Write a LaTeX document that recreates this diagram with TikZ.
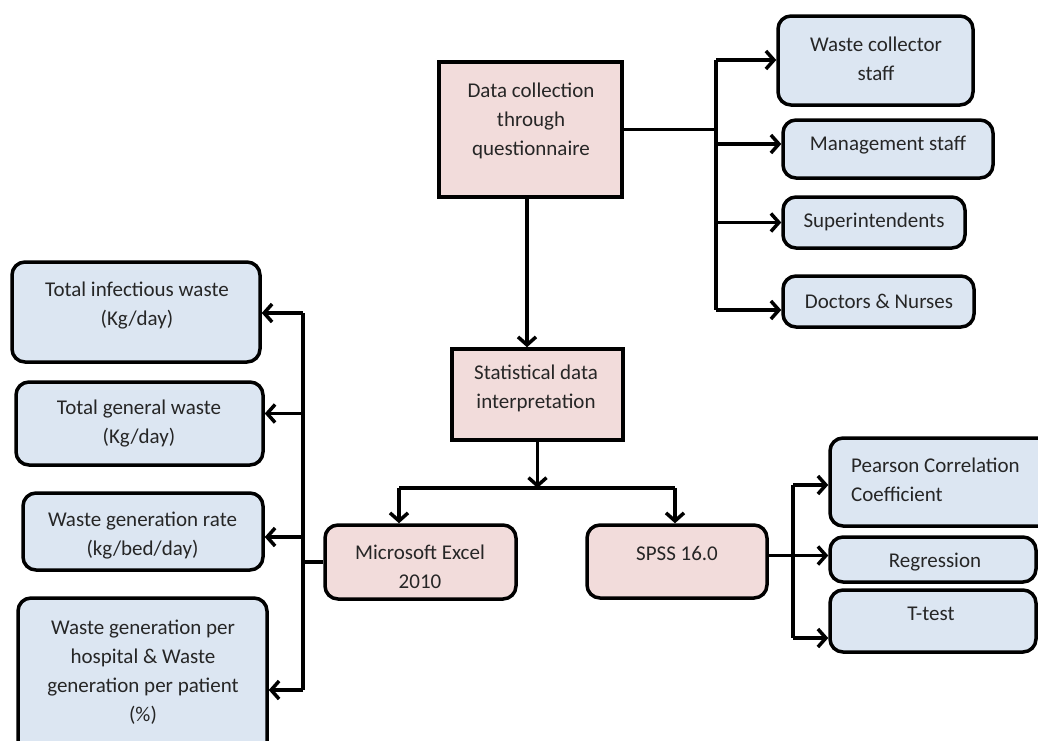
\documentclass[tikz,border=0pt]{standalone}
\usepackage{fontspec}
\setmainfont{Carlito}
\usetikzlibrary{arrows.meta}
\definecolor{pinkfill}{HTML}{F2DCDB}
\definecolor{bluefill}{HTML}{DCE6F2}
\definecolor{txtcol}{HTML}{262626}
\tikzset{
  boxbase/.style={draw=black, line width=3.5pt, inner sep=0pt},
  pinksq/.style={boxbase, fill=pinkfill},
  pinkrd/.style={boxbase, fill=pinkfill, rounded corners=13pt},
  bluerd/.style={boxbase, fill=bluefill, rounded corners=13pt},
  txt/.style={text=txtcol, align=center, inner sep=0pt, font=\fontsize{21}{29}\selectfont},
  conn/.style={draw=black, line width=3.5pt},
  arr/.style={conn, -{Straight Barb[length=8pt,width=18pt,line width=3.5pt]}}
}
\begin{document}
\begin{tikzpicture}[x=1pt,y=-1pt]
\clip (0,0) rectangle (1038,740);
\fill[white] (0,0) rectangle (1038,740);

% boxes
\node[pinksq, minimum width=183pt, minimum height=135pt] (dc) at (530.5,129.5) {};
\node[bluerd, minimum width=195pt, minimum height=89pt] (wc) at (875.5,60.5) {};
\node[bluerd, minimum width=210pt, minimum height=58pt] (ms) at (888,149) {};
\node[bluerd, minimum width=182pt, minimum height=51pt] (su) at (874,222.5) {};
\node[bluerd, minimum width=191pt, minimum height=51pt] (dn) at (878.5,301.5) {};
\node[pinksq, minimum width=171pt, minimum height=91pt] (st) at (537.5,394.5) {};
\node[pinkrd, minimum width=191pt, minimum height=74pt] (ex) at (420.5,562) {};
\node[pinkrd, minimum width=180pt, minimum height=73pt] (sp) at (677,561.5) {};
\node[bluerd, minimum width=248pt, minimum height=100pt] (ti) at (136,312) {};
\node[bluerd, minimum width=247pt, minimum height=83pt] (tg) at (139.5,423.5) {};
\node[bluerd, minimum width=240pt, minimum height=77pt] (wr) at (143,531.5) {};
\node[bluerd, minimum width=249pt, minimum height=164pt] (wp) at (142.5,680) {};
\node[bluerd, minimum width=230pt, minimum height=88pt] (pc) at (945,482) {};
\node[bluerd, minimum width=206pt, minimum height=45pt] (rg) at (933,559.5) {};
\node[bluerd, minimum width=206pt, minimum height=62pt] (tt) at (933,621) {};

% texts
\node[txt] (dct) at (531,121) {Data collection\\through\\questionnaire};
\node[txt] (wct) at (876,59) {Waste collector\\staff};
\node[txt] (mst) at (888,145) {Management staff};
\node[txt] (sut) at (874,222) {Superintendents};
\node[txt] (dnt) at (879,301) {Doctors \& Nurses};
\node[txt] (stt) at (536,388) {Statistical data\\interpretation};
\node[txt] (ext) at (420,567) {Microsoft Excel\\2010};
\node[txt] (spt) at (677,553) {SPSS 16.0};
\node[txt] (tit) at (137,306) {Total infectious waste\\(Kg/day)};
\node[txt] (tgt) at (139,424) {Total general waste\\(Kg/day)};
\node[txt] (wrt) at (142.5,536) {Waste generation rate\\(kg/bed/day)};
\node[txt] (wpt) at (143,672) {Waste generation per\\hospital \& Waste\\generation per patient\\(\%)};
\node[txt, align=left, anchor=west] (pct) at (851,480) {Pearson Correlation\\Coefficient};
\node[txt] (rgt) at (935,562) {Regression};
\node[txt] (ttt) at (931,614) {T-test};

% top right bus
\coordinate (rbt) at (716,60);
\coordinate (rbb) at (716,310);
\draw[conn] (dc.east) -- (dc.east -| rbt);
\draw[conn] (rbt) -- (rbb);
\draw[arr] (rbt) -- (wc.west |- rbt);
\draw[arr] ([yshift=5pt]ms.west -| rbt) -- ([yshift=5pt]ms.west);
\draw[arr] (su.west -| rbt) -- (su.west);
\draw[arr] (rbb) -- (dn.west |- rbb);

% main vertical
\coordinate (dcs) at (527,197);
\draw[arr] (dcs) -- (dcs |- st.north);

% split to Excel and SPSS
\coordinate (bar) at (537.5,488);
\coordinate (barL) at (399,488);
\coordinate (barR) at (675,488);
\draw[arr] (st.south) -- (bar);
\draw[conn] (barL) -- (barR);
\draw[arr] (barL) -- (barL |- ex.north);
\draw[arr] (barR) -- (barR |- sp.north);

% left bus
\coordinate (lbt) at (303,313);
\coordinate (lbb) at (303,690);
\draw[conn] (ex.west) -- (ex.west -| lbt);
\draw[conn] (lbt) -- (lbb);
\draw[arr] (lbt) -- (ti.east |- lbt);
\draw[arr] ([yshift=10pt]tg.east -| lbt) -- ([yshift=10pt]tg.east);
\draw[arr] ([yshift=-5.5pt]wr.east -| lbt) -- ([yshift=-5.5pt]wr.east);
\draw[arr] (lbb) -- (wp.east |- lbb);

% SPSS bus
\coordinate (sbt) at (793,485);
\coordinate (sbb) at (793,638);
\draw[arr] ([yshift=6pt]sp.east) -- ([yshift=6pt]sp.east -| rg.west);
\draw[conn] (sbt) -- (sbb);
\draw[arr] (sbt) -- (sbt -| pc.west);
\draw[arr] (sbb) -- (sbb -| tt.west);
\end{tikzpicture}
\end{document}
